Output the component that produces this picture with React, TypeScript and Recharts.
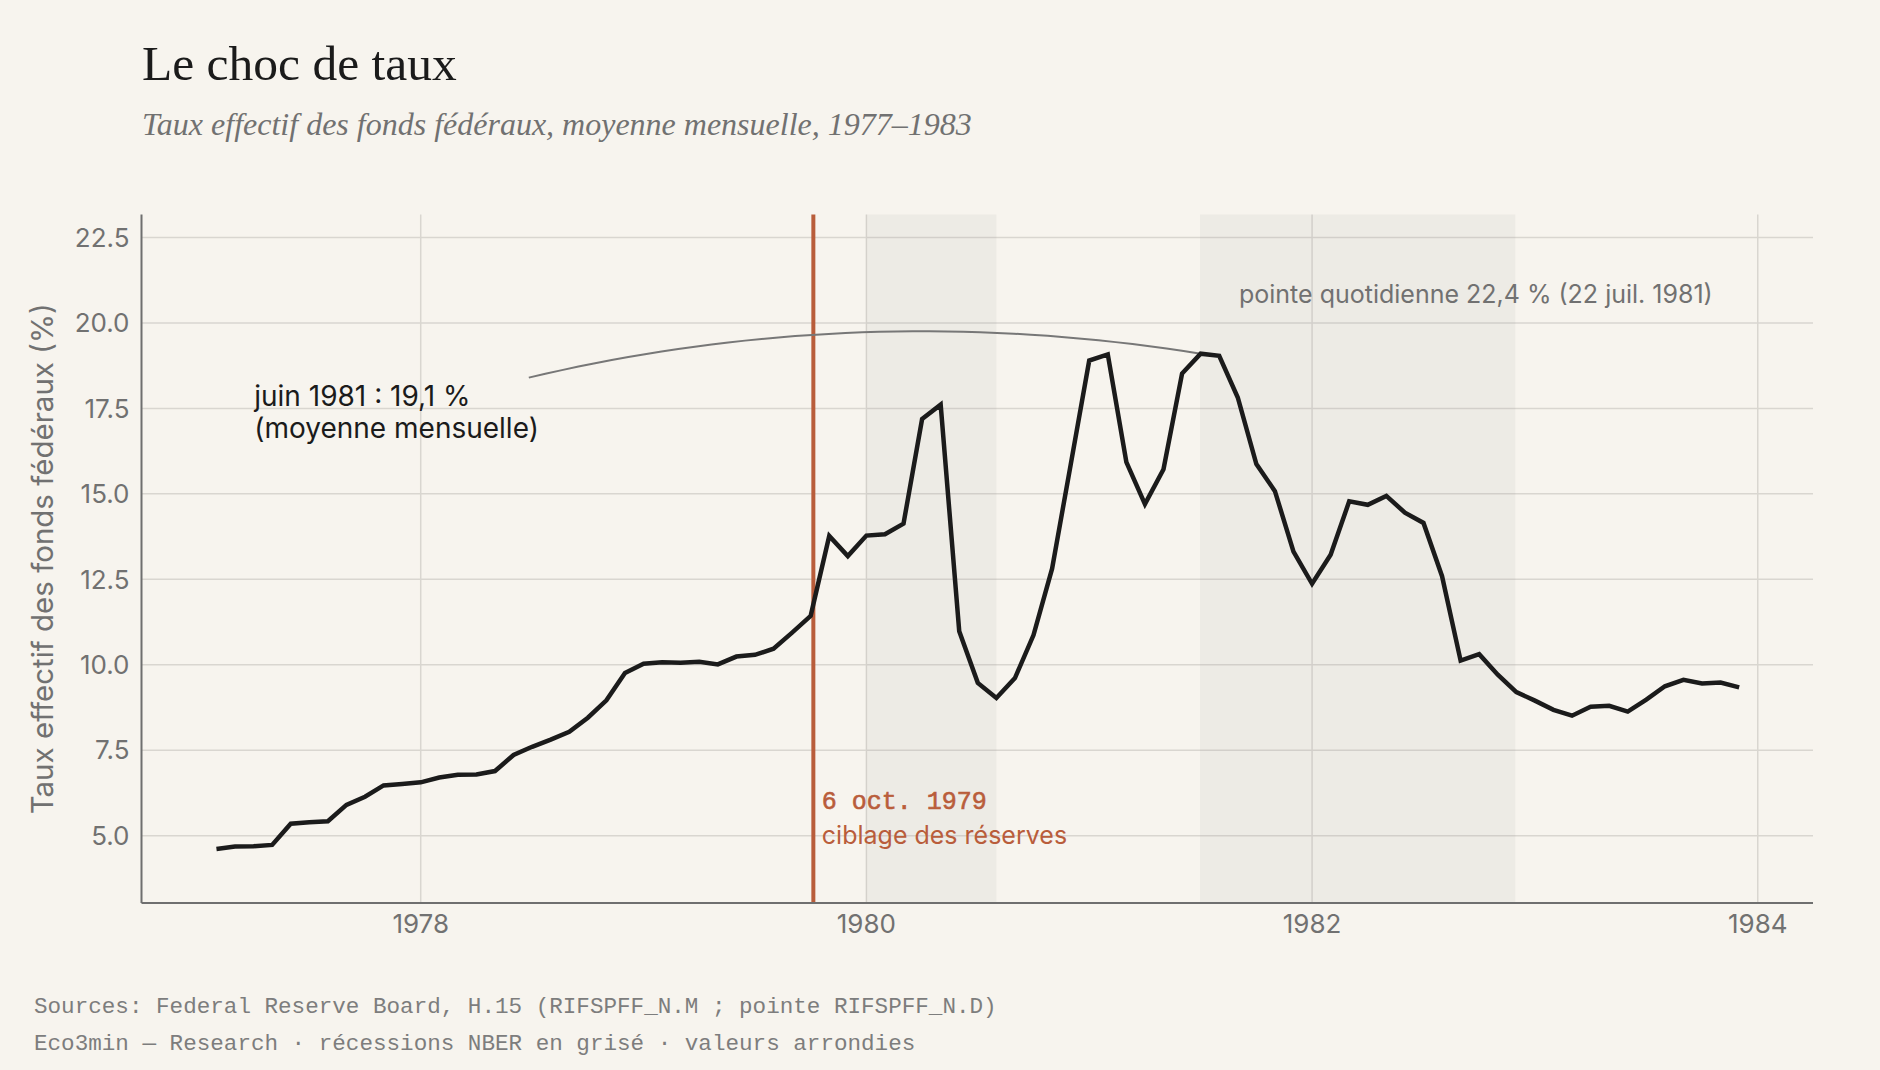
import React from 'react';
import {
  LineChart,
  Line,
  XAxis,
  YAxis,
  CartesianGrid,
  ReferenceArea,
  ReferenceLine,
  ReferenceDot,
} from 'recharts';

// Effective federal funds rate, monthly averages (%), Jan 1977 – Nov 1983
const START_YEAR = 1977;
const rate1977 = [4.61, 4.68, 4.69, 4.73, 5.35, 5.39, 5.42, 5.9, 6.14, 6.47, 6.51, 6.56];
const rate1978 = [6.7, 6.78, 6.79, 6.89, 7.36, 7.6, 7.81, 8.04, 8.45, 8.96, 9.76, 10.03];
const rate1979 = [10.07, 10.06, 10.09, 10.01, 10.24, 10.29, 10.47, 10.94, 11.43, 13.77, 13.18, 13.78];
const rate1980 = [13.82, 14.13, 17.19, 17.61, 10.98, 9.47, 9.03, 9.61, 10.87, 12.81, 15.85, 18.9];
const rate1981 = [19.08, 15.93, 14.7, 15.72, 18.52, 19.1, 19.04, 17.82, 15.87, 15.08, 13.31, 12.37];
const rate1982 = [13.22, 14.78, 14.68, 14.94, 14.45, 14.15, 12.59, 10.12, 10.31, 9.71, 9.2, 8.95];
const rate1983 = [8.68, 8.51, 8.77, 8.8, 8.63, 8.98, 9.37, 9.56, 9.45, 9.48, 9.34];
const ratesByYear = [rate1977, rate1978, rate1979, rate1980, rate1981, rate1982, rate1983];

// NBER recessions (decimal years)
const recessions: [number, number][] = [
  [1980.0, 1980.583],
  [1981.497, 1982.912],
];

// Volcker shift to reserve targeting, 6 Oct 1979
const SHIFT_DATE = 1979.762;

const xTicks = [1978, 1980, 1982, 1984];
const yTicks = [5, 7.5, 10, 12.5, 15, 17.5, 20, 22.5];
const X_DOMAIN: [number, number] = [1976.747, 1984.248];
const Y_DOMAIN: [number, number] = [3.03, 23.17];

// Texts
const TITLE = 'Le choc de taux';
const SUBTITLE = 'Taux effectif des fonds fédéraux, moyenne mensuelle, 1977–1983';
const Y_LABEL = 'Taux effectif des fonds fédéraux (%)';
const PEAK_LINES = ['juin 1981 : 19,1 %', '(moyenne mensuelle)'];
const DAILY_PEAK = 'pointe quotidienne 22,4 % (22 juil. 1981)';
const SHIFT_LINES = ['6 oct. 1979', 'ciblage des réserves'];
const FOOTER = [
  'Sources: Federal Reserve Board, H.15 (RIFSPFF_N.M ; pointe RIFSPFF_N.D)',
  'Eco3min — Research · récessions NBER en grisé · valeurs arrondies',
];

// Monthly points dated at month end
const series = ratesByYear.flatMap((vals, i) =>
  vals.map((v, m) => ({ x: START_YEAR + i + (m + 1) / 12, v }))
);

// Connector from the June 1981 label to the monthly peak (quadratic curve in data space)
const peakPoint = series.reduce((a, b) => (b.v > a.v ? b : a));
const arcStart = { x: 1978.485, v: 18.4 };
const arcControl = { x: 1979.97, v: 20.7 };
const arcPoints = Array.from({ length: 41 }, (_, i) => {
  const t = i / 40;
  const a = (1 - t) * (1 - t);
  const b = 2 * t * (1 - t);
  const c = t * t;
  return {
    x: a * arcStart.x + b * arcControl.x + c * peakPoint.x,
    v: a * arcStart.v + b * arcControl.v + c * peakPoint.v,
  };
});

const BG = '#f7f4ee';
const INK = '#1b1b1b';
const MUTED = '#717171';
const ACCENT = '#b95d3b';
const SANS = 'Inter, "Noto Sans", sans-serif';
const SERIF = '"Liberation Serif", serif';
const MONO = '"Liberation Mono", "DejaVu Sans Mono", monospace';

const W = 1880;
const H = 1070;
const PLOT = { left: 141.5, top: 214.6, right: 1813, bottom: 903 };
const Y_AXIS_W = 80;
const X_AXIS_H = 60;

export default function App() {
  return (
    <div
      style={{
        position: 'absolute',
        left: 0,
        top: 0,
        width: W,
        height: H,
        background: BG,
        overflow: 'hidden',
      }}
    >
      <LineChart
        width={W}
        height={H}
        style={{ position: 'absolute', left: 0, top: 0 }}
        margin={{
          top: PLOT.top,
          left: PLOT.left - Y_AXIS_W,
          right: W - PLOT.right,
          bottom: H - PLOT.bottom - X_AXIS_H,
        }}
      >
        <CartesianGrid stroke="#d9d6d0" strokeWidth={1.5} verticalValues={xTicks} horizontalValues={yTicks} />
        {recessions.map(([a, b], i) => (
          <ReferenceArea key={i} x1={a} x2={b} fill="#8c8c8c" fillOpacity={0.09} stroke="none" ifOverflow="visible" />
        ))}
        <XAxis
          type="number"
          dataKey="x"
          domain={X_DOMAIN}
          allowDataOverflow
          ticks={xTicks}
          height={X_AXIS_H}
          tickSize={0}
          tickMargin={12}
          axisLine={{ stroke: '#6f6f6f', strokeWidth: 2 }}
          tickLine={false}
          tick={{ fill: MUTED, fontSize: 26, fontFamily: SANS }}
        />
        <YAxis
          type="number"
          dataKey="v"
          domain={Y_DOMAIN}
          allowDataOverflow
          ticks={yTicks}
          width={Y_AXIS_W}
          tickSize={0}
          tickMargin={12}
          tickFormatter={(v: number) => v.toFixed(1)}
          axisLine={{ stroke: '#6f6f6f', strokeWidth: 2 }}
          tickLine={false}
          tick={{ fill: MUTED, fontSize: 26, fontFamily: SANS }}
        />
        <ReferenceLine x={SHIFT_DATE} stroke={ACCENT} strokeWidth={4} ifOverflow="visible" />
        <Line
          data={arcPoints}
          dataKey="v"
          type="linear"
          stroke="#777777"
          strokeWidth={2}
          dot={false}
          activeDot={false}
          isAnimationActive={false}
        />
        <Line
          data={series}
          dataKey="v"
          type="linear"
          stroke={INK}
          strokeWidth={4.5}
          strokeLinejoin="miter"
          dot={false}
          activeDot={false}
          isAnimationActive={false}
        />
        <ReferenceDot
          x={1977.253}
          y={17.57}
          r={0}
          ifOverflow="visible"
          shape={(p: any) => (
            <text x={p.cx} y={p.cy} fill={INK} fontSize={28} fontFamily={SANS}>
              <tspan x={p.cx}>{PEAK_LINES[0]}</tspan>
              <tspan x={p.cx} dy={32}>{PEAK_LINES[1]}</tspan>
            </text>
          )}
        />
        <ReferenceDot
          x={1981.672}
          y={20.58}
          r={0}
          ifOverflow="visible"
          shape={(p: any) => (
            <text x={p.cx} y={p.cy} fill={MUTED} fontSize={25} fontFamily={SANS}>
              {DAILY_PEAK}
            </text>
          )}
        />
        <ReferenceDot
          x={1979.8}
          y={5.77}
          r={0}
          ifOverflow="visible"
          shape={(p: any) => (
            <text x={p.cx} y={p.cy} fill={ACCENT}>
              <tspan
                x={p.cx}
                fontSize={25}
                fontFamily={MONO}
                stroke={ACCENT}
                strokeWidth={0.6}
              >
                {SHIFT_LINES[0]}
              </tspan>
              <tspan x={p.cx} dy={35} fontSize={25} fontFamily={SANS}>
                {SHIFT_LINES[1]}
              </tspan>
            </text>
          )}
        />
      </LineChart>

      <svg
        width={W}
        height={H}
        style={{ position: 'absolute', left: 0, top: 0, pointerEvents: 'none' }}
      >
        <text x={142} y={80} fill={INK} fontSize={49.5} fontFamily={SERIF}>
          {TITLE}
        </text>
        <text x={142} y={135} fill={MUTED} fontSize={32} fontFamily={SERIF} fontStyle="italic">
          {SUBTITLE}
        </text>
        <text
          x={53}
          y={(PLOT.top + PLOT.bottom) / 2}
          transform={`rotate(-90, 53, ${(PLOT.top + PLOT.bottom) / 2})`}
          textAnchor="middle"
          fill={MUTED}
          fontSize={29.5}
          fontFamily={SANS}
        >
          {Y_LABEL}
        </text>
        <text x={34} y={1013} fill="#7d7d7d" fontSize={22.6} fontFamily={MONO}>
          {FOOTER[0]}
        </text>
        <text x={34} y={1050} fill="#7d7d7d" fontSize={22.6} fontFamily={MONO}>
          {FOOTER[1]}
        </text>
      </svg>
    </div>
  );
}
